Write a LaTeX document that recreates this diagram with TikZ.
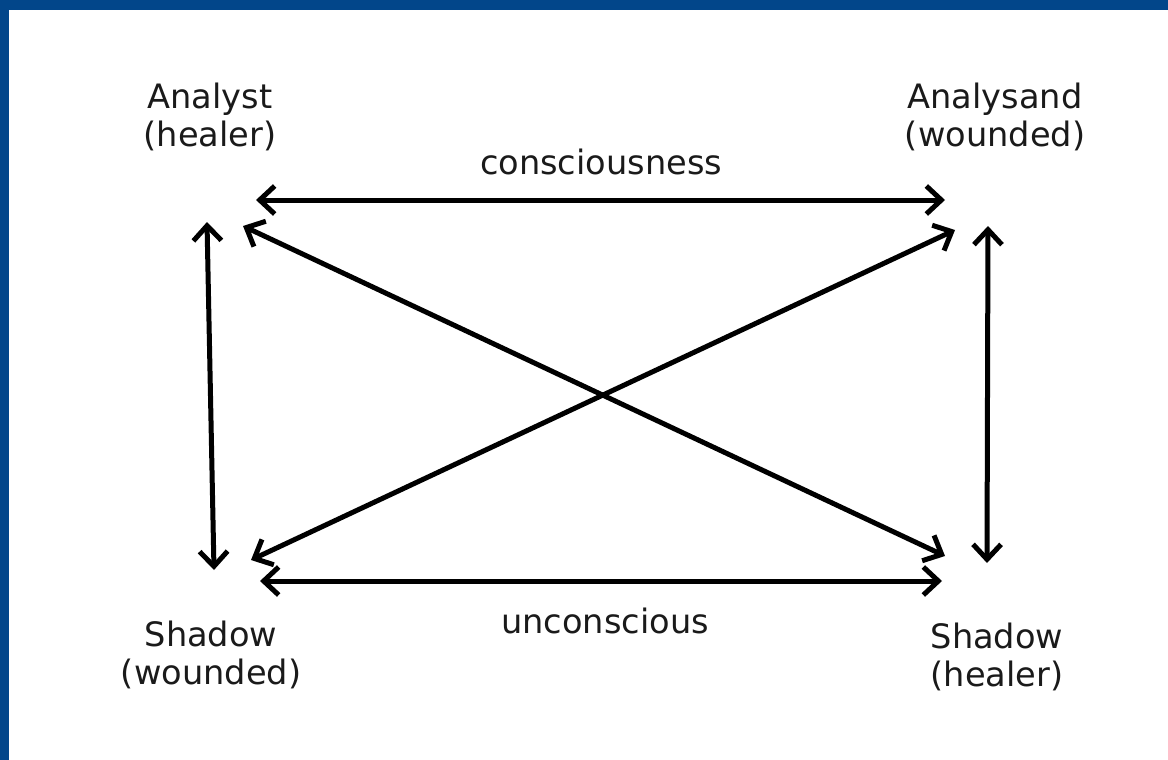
\documentclass[tikz,border=0pt]{standalone}
\usepackage{fontspec}
\setmainfont{DejaVu Sans}
\usetikzlibrary{arrows.meta}
\definecolor{frameBlue}{HTML}{02468A}
\definecolor{inkGray}{HTML}{1A1A1A}
\tikzset{
  roleLabel/.style={
    align=center,
    font=\fontsize{16.8}{19}\selectfont,
    text=inkGray,
    inner sep=0pt
  },
  levelLabel/.style={
    font=\fontsize{16.8}{19}\selectfont,
    text=inkGray,
    inner sep=0pt
  },
  linkArrow/.style={
    {Straight Barb[length=7.5pt,width=14pt]}-{Straight Barb[length=7.5pt,width=14pt]},
    line width=2.5pt,
    draw=black
  }
}
\begin{document}
\begin{tikzpicture}[x=0.5pt,y=-0.5pt]
  \fill[white] (0,0) rectangle (1168,760);
  \fill[frameBlue] (0,0) rectangle (1168,10);
  \fill[frameBlue] (0,0) rectangle (9,760);
  \useasboundingbox (0,0) rectangle (1168,760);

  \node[roleLabel] (analyst) at (210,117) {Analyst\\(healer)};
  \node[roleLabel] (analysand) at (995,117) {Analysand\\(wounded)};
  \node[roleLabel] (shadowW) at (211,655) {Shadow\\(wounded)};
  \node[roleLabel] (shadowH) at (997,657) {Shadow\\(healer)};
  \node[levelLabel] (consc) at (601,162) {consciousness};
  \node[levelLabel] (uncon) at (605,621) {unconscious};

  % arrow ends round the four corners
  \coordinate (topL) at (256,200);
  \coordinate (topR) at (945,200);
  \coordinate (botL) at (260,581);
  \coordinate (botR) at (942,581);
  \coordinate (leftT) at (207,222);
  \coordinate (leftB) at (214,570);
  \coordinate (rightT) at (988,226);
  \coordinate (rightB) at (987,563);
  \coordinate (diagTL) at (243,226);
  \coordinate (diagBR) at (945,556);
  \coordinate (diagBL) at (251,560);
  \coordinate (diagTR) at (955,230);

  \draw[linkArrow] (topL) -- (topR);
  \draw[linkArrow] (botL) -- (botR);
  \draw[linkArrow] (leftT) -- (leftB);
  \draw[linkArrow] (rightT) -- (rightB);
  \draw[linkArrow] (diagTL) -- (diagBR);
  \draw[linkArrow] (diagBL) -- (diagTR);
\end{tikzpicture}
\end{document}
